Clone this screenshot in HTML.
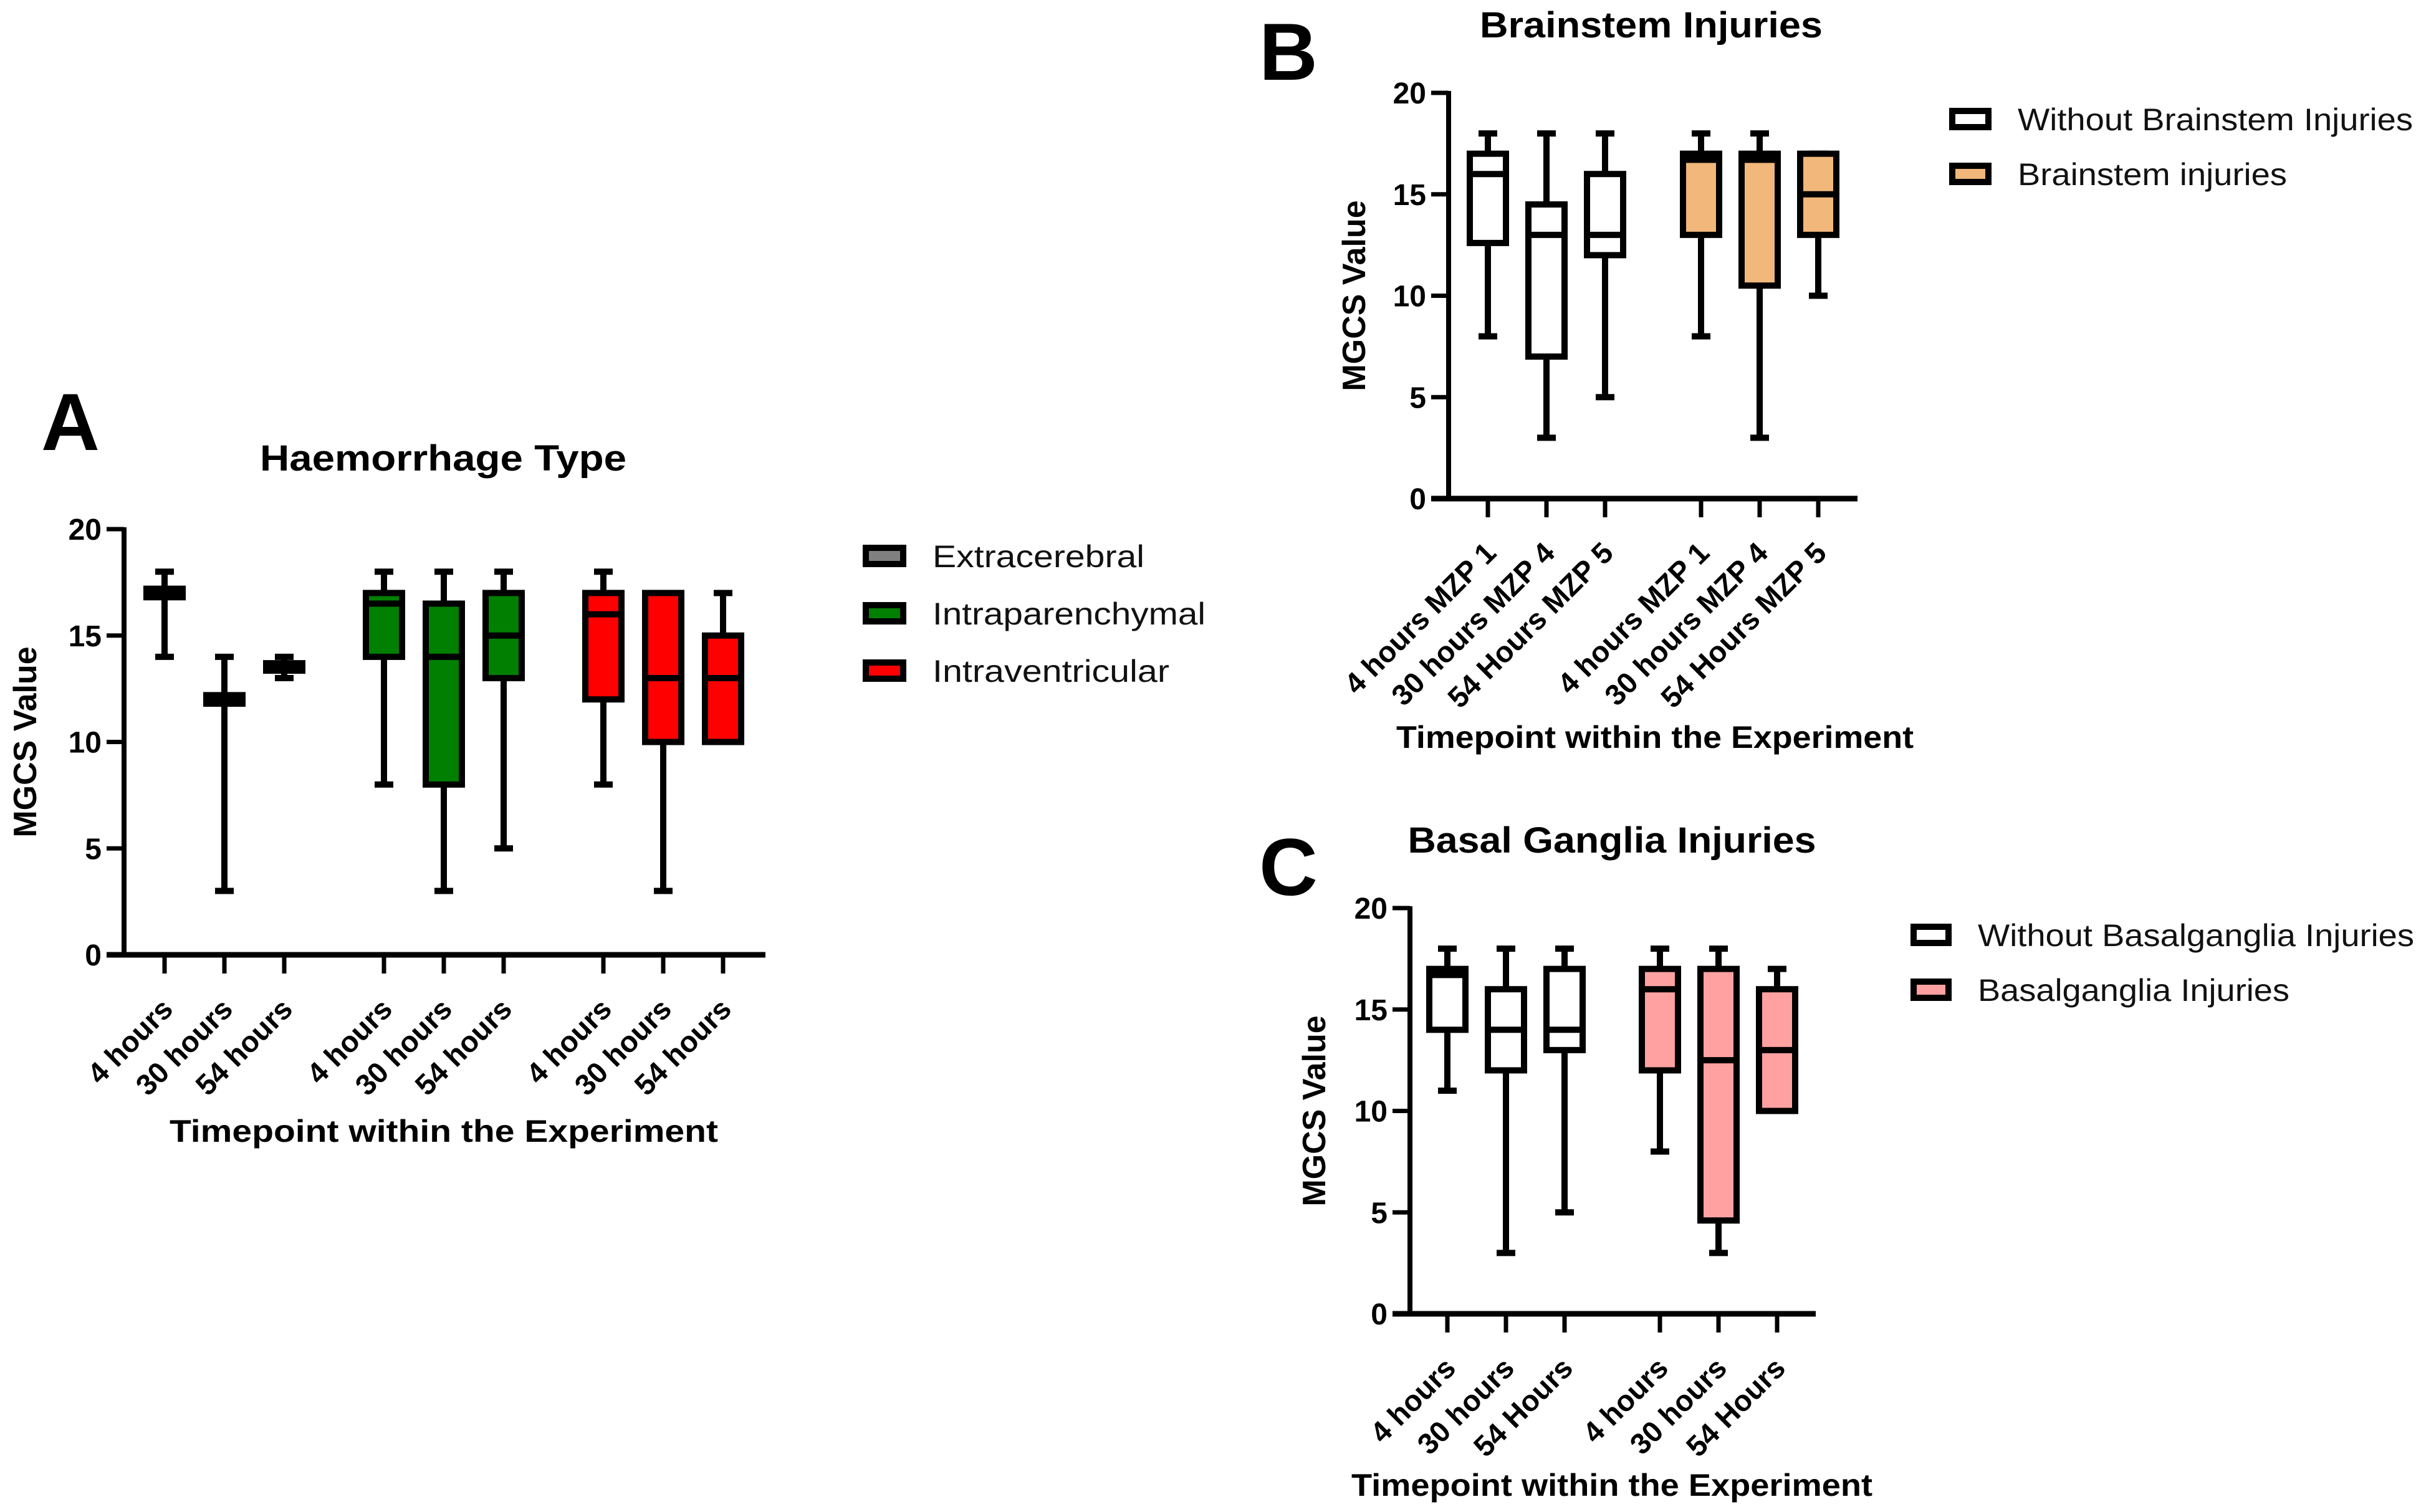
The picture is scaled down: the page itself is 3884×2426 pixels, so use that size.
<!DOCTYPE html>
<html><head><meta charset="utf-8"><style>
html,body{margin:0;padding:0;background:#fff;}
svg{display:block;font-family:"Liberation Sans",Arial,sans-serif;}
</style></head><body>
<svg id="fig" width="3884" height="2426" viewBox="0 0 3884 2426" xmlns="http://www.w3.org/2000/svg">
<g id="root"></g>
</svg>
<script>
// ---- Panel A data ----
const catsA = ["4  hours","30 hours","54 hours","4  hours","30 hours","54 hours","4  hours","30 hours","54 hours"];
const minA = [14,3,13, 8,3,5, 8,3,10];
const q1A  = [16.8,11.8,13.35, 14,8,13, 12,10,10];
const medA = [17,12,13.5, 16.5,14,15, 16,13,13];
const q3A  = [17.2,12.2,13.7, 17,16.5,17, 17,17,15];
const maxA = [18,14,14, 18,18,18, 18,17,17];
const groupA = [0,0,0,1,1,1,2,2,2];
const legendA = ["Extracerebral","Intraparenchymal","Intraventricular"];
// ---- Panel B data ----
const catsB = ["4  hours MZP 1","30 hours MZP 4","54 Hours MZP 5","4  hours MZP 1","30 hours MZP 4","54 Hours MZP 5"];
const minB = [8,3,5, 8,3,10];
const q1B  = [12.6,7,12, 13,10.5,13];
const medB = [16,13,13, 16.7,16.7,15];
const q3B  = [17,14.5,16, 17,17,17];
const maxB = [18,18,18, 18,18,17];
const groupB = [0,0,0,1,1,1];
const legendB = ["Without Brainstem Injuries","Brainstem injuries"];
// ---- Panel C data ----
const catsC = ["4  hours","30 hours","54 Hours","4  hours","30 hours","54 Hours"];
const minC = [11,3,5, 8,3,10];
const q1C  = [14,12,13, 12,4.6,10];
const medC = [16.7,14,14, 16,12.5,13];
const q3C  = [17,16,17, 17,17,16];
const maxC = [18,18,18, 18,18,17];
const groupC = [0,0,0,1,1,1];
const legendC = ["Without Basalganglia Injuries","Basalganglia Injuries"];
const yTicks = [0,5,10,15,20];
const yTickLabels = ["0","5","10","15","20"];

const NS = "http://www.w3.org/2000/svg";
const root = document.getElementById('root');
function mk(tag, attrs, parent, text){
  const e = document.createElementNS(NS, tag);
  for (const k in attrs) e.setAttribute(k, attrs[k]);
  if (text !== undefined) e.textContent = text;
  (parent||root).appendChild(e);
  return e;
}

function panel(cfg){
  const g = mk('g', {});
  
  
  const y = v => cfg.y0 - (cfg.y0 - cfg.y20) * v / 20;
  const n = cfg.cats.length;
  const x = i => cfg.centers0 + cfg.step * i + cfg.gap * cfg.group[i];
  const L = mk('text', {x:cfg.letterX, y:cfg.letterY, 'font-size':130, 'font-weight':'bold'}, g, cfg.letter);
  
  
  const T = mk('text', {x:cfg.titleX, y:cfg.titleY, 'font-size':58, 'font-weight':'bold', 'text-anchor':'middle', textLength:cfg.titleW, lengthAdjust:'spacingAndGlyphs'}, g, cfg.title);
  
  
  const ya = mk('line', {x1:cfg.ax, y1:cfg.y20-3, x2:cfg.ax, y2:cfg.y0+4, stroke:'#000','stroke-width':8}, g);
  
  
  const xa = mk('line', {x1:cfg.ax-28, y1:cfg.y0, x2:cfg.axEnd, y2:cfg.y0, stroke:'#000','stroke-width':9}, g);
  
  
  yTicks.forEach((v, k) => {
    const t = mk('line', {x1:cfg.ax-28, y1:y(v), x2:cfg.ax, y2:y(v), stroke:'#000','stroke-width':7}, g);
    
    
    const tl = mk('text', {x:cfg.ax-36, y:y(v)+17, 'font-size':48, 'font-weight':'bold','text-anchor':'end'}, g, yTickLabels[k]);
    
    
  });
  const yl = mk('text', {x:0, y:0, 'font-size':52, 'font-weight':'bold','text-anchor':'middle', transform:`translate(${cfg.ylabX},${y(10)}) rotate(-90)`}, g, 'MGCS Value');
  
  
  const xl = mk('text', {x:cfg.xlabX, y:cfg.xlabY, 'font-size':50, 'font-weight':'bold','text-anchor':'middle', textLength:cfg.xlabW, lengthAdjust:'spacingAndGlyphs'}, g, 'Timepoint within the Experiment');
  
  
  const hw = 29, cw = 15;
  for (let i = 0; i < n; i++){
    const cx = x(i);
    const tk = mk('line', {x1:cx, y1:cfg.y0, x2:cx, y2:cfg.y0+30, stroke:'#000','stroke-width':7}, g);
    
    
    const ax = cx + 16, ay = cfg.y0 + 90;
    const lab = mk('text', {x:ax, y:ay, 'font-size':47, 'font-weight':'bold','text-anchor':'end', transform:`rotate(-45 ${ax} ${ay})`}, g, cfg.cats[i]);
    
    
    const bx = mk('g', {}, g);
    
    
    const wk = mk('line', {x1:cx, y1:y(cfg.max[i]), x2:cx, y2:y(cfg.min[i]), stroke:'#000','stroke-width':10}, bx);
    
    
    [cfg.max[i], cfg.min[i]].forEach(v => {
      const c = mk('line', {x1:cx-cw, y1:y(v), x2:cx+cw, y2:y(v), stroke:'#000','stroke-width':10}, bx);
      
      
    });
    const r = mk('rect', {x:cx-hw, y:y(cfg.q3[i]), width:hw*2, height:Math.max(0.5, y(cfg.q1[i]) - y(cfg.q3[i])), fill:cfg.colors[cfg.group[i]], stroke:'#000','stroke-width':10}, bx);
    
    
    const m = mk('line', {x1:cx-hw, y1:y(cfg.med[i]), x2:cx+hw, y2:y(cfg.med[i]), stroke:'#000','stroke-width':10}, bx);
    
    
  }
  cfg.legend.forEach((s, k) => {
    const lg = mk('g', {}, g);
    
    
    const ly = cfg.legY + cfg.legStep * k;
    mk('rect', {x:cfg.legX+5, y:ly-13, width:cfg.legBW-10, height:26, fill:cfg.colors[k], stroke:'#000','stroke-width':10}, lg);
    mk('text', {x:cfg.legX + cfg.legBW + 42, y:ly+18, 'font-size':50, fill:'#111', textLength:cfg.legW[k], lengthAdjust:'spacingAndGlyphs'}, lg, s);
  });
}

panel({name:'panel-a-haemorrhage-type', letter:'A', letterX:66, letterY:722, title:'Haemorrhage Type', titleX:711, titleY:755, titleW:588,
  cats:catsA, min:minA, q1:q1A, med:medA, q3:q3A, max:maxA, group:groupA, legend:legendA,
  colors:['#808080','#007f00','#ff0000'],
  ax:199, axEnd:1228, y0:1532, y20:849, centers0:264, step:96, gap:64,
  ylabX:58, xlabX:712, xlabY:1832, xlabW:880,
  legX:1384, legBW:70, legY:892, legStep:92, legW:[340,438,380]});
panel({name:'panel-b-brainstem-injuries', letter:'B', letterX:2020, letterY:128, title:'Brainstem Injuries', titleX:2649, titleY:60, titleW:550,
  cats:catsB, min:minB, q1:q1B, med:medB, q3:q3B, max:maxB, group:groupB, legend:legendB,
  colors:['#ffffff','#f1b77b'],
  ax:2324, axEnd:2980, y0:800, y20:149, centers0:2387, step:94, gap:60,
  ylabX:2190, xlabX:2655, xlabY:1200, xlabW:830,
  legX:3127, legBW:68, legY:191, legStep:88, legW:[634,432]});
panel({name:'panel-c-basal-ganglia-injuries', letter:'C', letterX:2020, letterY:1436, title:'Basal Ganglia Injuries', titleX:2586, titleY:1368, titleW:655,
  cats:catsC, min:minC, q1:q1C, med:medC, q3:q3C, max:maxC, group:groupC, legend:legendC,
  colors:['#ffffff','#ffa1a1'],
  ax:2262, axEnd:2913, y0:2108, y20:1457, centers0:2322, step:94, gap:59,
  ylabX:2126, xlabX:2586, xlabY:2400, xlabW:836,
  legX:3065, legBW:66, legY:1500, legStep:88, legW:[700,500]});
</script>
</body></html>
